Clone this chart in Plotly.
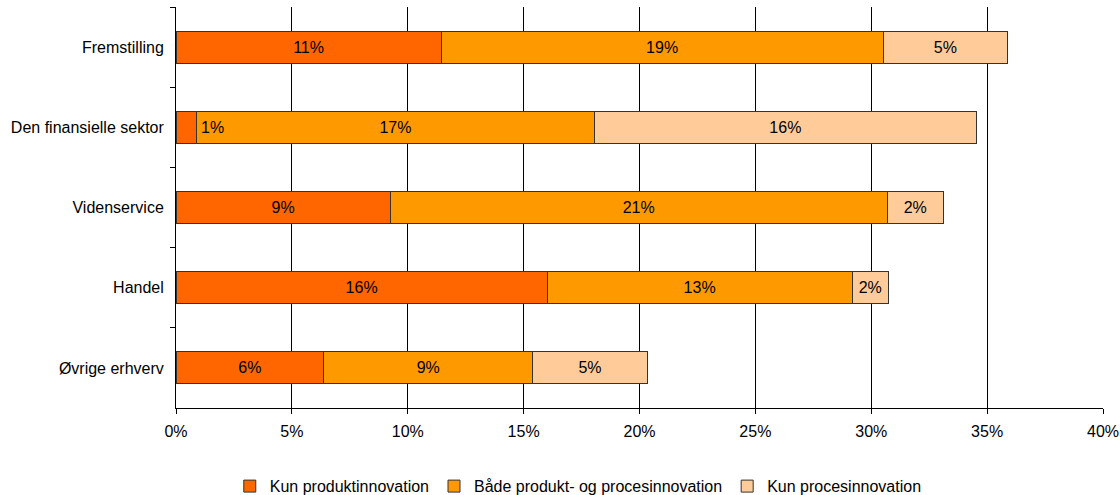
import plotly.graph_objects as go

# Sectors, top to bottom
categories = ["Fremstilling", "Den finansielle sektor", "Videnservice", "Handel", "Øvrige erhverv"]

# Share of firms (fraction) per innovation type
kun_produkt = [0.1144, 0.0088, 0.0925, 0.1602, 0.0638]
baade = [0.1907, 0.1718, 0.2143, 0.1315, 0.0901]
kun_proces = [0.0538, 0.1647, 0.0244, 0.0157, 0.0495]

series_names = ["Kun produktinnovation", "Både produkt- og procesinnovation", "Kun procesinnovation"]
series_values = [kun_produkt, baade, kun_proces]
series_colors = ["#FF6600", "#FF9900", "#FFCC99"]

x_ticks = [0, 0.05, 0.10, 0.15, 0.20, 0.25, 0.30, 0.35, 0.40]

FONT = "Liberation Sans, Arial, sans-serif"

fig = go.Figure()
for name, vals, color in zip(series_names, series_values, series_colors):
    # very thin segments get their label placed beside the bar instead
    texts = [f"{v:.0%}" if v >= 0.015 else "" for v in vals]
    fig.add_trace(go.Bar(
        y=categories, x=vals, name=name, orientation="h",
        marker=dict(color=color, line=dict(color="#333333", width=1)),
        text=texts, textposition="inside", insidetextanchor="middle",
        textangle=0, constraintext="none",
        textfont=dict(color="#000000", size=16, family=FONT),
        hovertemplate="%{y}: %{x:.1%}<extra>" + name + "</extra>",
    ))

# label for the narrow first segment, set just to its right
for cat, v in zip(categories, kun_produkt):
    if v < 0.015:
        fig.add_annotation(x=v, y=cat, text=f"{v:.0%}", showarrow=False,
                           xanchor="left", xshift=3,
                           font=dict(color="#000000", size=16, family=FONT))

fig.update_layout(
    barmode="stack",
    bargap=0.6,
    width=1120, height=495,
    margin=dict(l=176, r=17, t=7, b=87, autoexpand=False),
    paper_bgcolor="white", plot_bgcolor="white",
    font=dict(family=FONT, size=16, color="#000000"),
    showlegend=True,
    legend=dict(orientation="h", x=0.058, xanchor="left", y=-0.195, yanchor="middle",
                font=dict(size=16, family=FONT), traceorder="normal",
                itemwidth=30),
)
fig.update_xaxes(
    range=[0, 0.4], tickvals=x_ticks, tickformat=".0%",
    showgrid=True, gridcolor="#000000", gridwidth=1,
    showline=True, linecolor="#000000", linewidth=1,
    ticks="outside", ticklen=5, tickcolor="#000000",
    ticklabelstandoff=4, automargin=False,
    zeroline=False, fixedrange=True,
)
fig.update_yaxes(
    categoryorder="array", categoryarray=categories, autorange="reversed",
    showline=True, linecolor="#000000", linewidth=1,
    ticks="outside", tickson="boundaries", ticklen=5, tickcolor="#000000",
    ticklabelstandoff=8, automargin=False, showgrid=False, fixedrange=True,
)

fig.write_html("out.html")
